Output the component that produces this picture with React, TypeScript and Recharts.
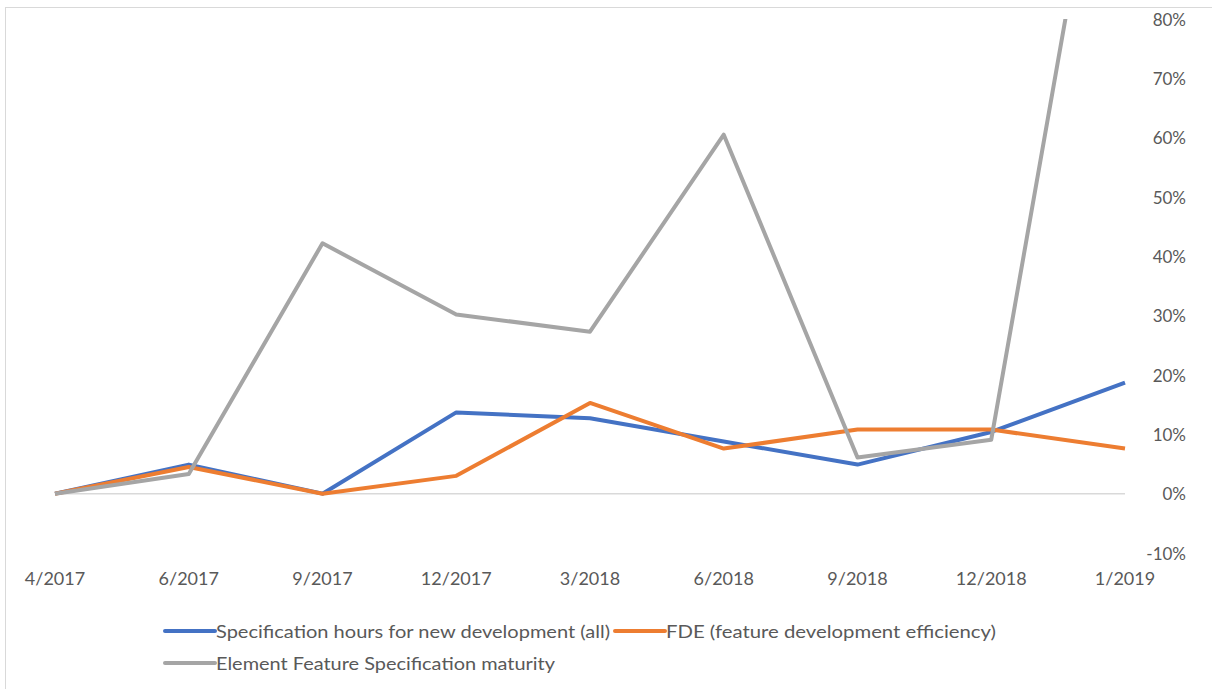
import React from 'react';
import { LineChart, Line, XAxis, YAxis, ReferenceLine, Legend } from 'recharts';

// Reporting periods
const periods = ['4/2017', '6/2017', '9/2017', '12/2017', '3/2018', '6/2018', '9/2018', '12/2018', '1/2019'];

// Series values, in percent
const specHours = [0, 4.9, 0, 13.7, 12.7, 8.8, 4.9, 10.4, 18.7];
const fde = [0, 4.5, 0, 3.0, 15.3, 7.6, 10.8, 10.8, 7.6];
const maturity = [0, 3.3, 42.2, 30.2, 27.3, 60.5, 6.1, 9.1, 137];

// Value-axis ticks
const yTicks = [-10, 0, 10, 20, 30, 40, 50, 60, 70, 80];

const seriesNames = [
  'Specification hours for new development (all)',
  'FDE (feature development efficiency)',
  'Element Feature Specification maturity',
];

const data = periods.map((p, i) => ({
  period: p,
  spec: specHours[i],
  fde: fde[i],
  maturity: maturity[i],
}));

const FONT = 'Lato, "Open Sans", sans-serif';
const TEXT = '#595959';

const XTick = (props: any) => {
  const { x, y, payload } = props;
  return (
    <text x={x} y={y + 17} textAnchor="middle" dominantBaseline="central" fill={TEXT} fontSize={18} fontFamily={FONT}>
      {payload.value}
    </text>
  );
};

const YTick = (props: any) => {
  const { x, y, payload } = props;
  return (
    <text x={x + 53} y={y} textAnchor="end" dominantBaseline="central" fill={TEXT} fontSize={17} fontFamily={FONT}>
      {`${payload.value}%`}
    </text>
  );
};

// Legend laid out in two rows: two entries on the first, one on the second
const legendSlots = [
  { x: 165, y: 12, len: 394 },
  { x: 615, y: 12, len: 330 },
  { x: 165, y: 44, len: 339 },
];

const LegendContent = (props: any) => {
  const items = props.payload || [];
  return (
    <svg width={1212} height={70} style={{ display: 'block' }}>
      {items.map((item: any) => {
        const s = legendSlots[seriesNames.indexOf(item.value)];
        if (!s) return null;
        return (
          <g key={item.value}>
            <line x1={s.x} x2={s.x + 50} y1={s.y} y2={s.y} stroke={item.color} strokeWidth={4} strokeLinecap="round" />
            <text
              x={s.x + 51}
              y={s.y}
              dominantBaseline="central"
              fill={TEXT}
              fontSize={17}
              fontFamily={FONT}
              textLength={s.len}
              lengthAdjust="spacingAndGlyphs"
            >
              {item.value}
            </text>
          </g>
        );
      })}
    </svg>
  );
};

export default function App() {
  return (
    <div style={{ position: 'fixed', left: 0, top: 0, width: 1212, height: 689, background: '#fff', overflow: 'hidden' }}>
      <div
        style={{
          position: 'absolute',
          left: 5,
          top: 7,
          width: 1400,
          height: 900,
          border: '1.5px solid #d9d9d9',
          boxSizing: 'border-box',
        }}
      />
      <div style={{ position: 'absolute', left: 0, top: 0 }}>
        <LineChart width={1212} height={689} data={data} margin={{ top: 19, right: 0, bottom: 0, left: 55 }}>
          <XAxis
            dataKey="period"
            axisLine={false}
            tickLine={false}
            height={66}
            interval={0}
            tick={<XTick />}
          />
          <YAxis
            orientation="right"
            width={87}
            domain={[-10, 80]}
            ticks={yTicks}
            allowDataOverflow
            axisLine={false}
            tickLine={false}
            tick={<YTick />}
          />
          <ReferenceLine y={0} stroke="#d9d9d9" strokeWidth={1.5} />
          <Legend verticalAlign="bottom" height={70} wrapperStyle={{ left: 0, bottom: 0, width: 1212, height: 70 }} content={<LegendContent />} />
          <Line
            dataKey="spec"
            name={seriesNames[0]}
            stroke="#4472C4"
            strokeWidth={4}
            dot={false}
            strokeLinejoin="round"
            isAnimationActive={false}
          />
          <Line
            dataKey="fde"
            name={seriesNames[1]}
            stroke="#ED7D31"
            strokeWidth={4}
            dot={false}
            strokeLinejoin="round"
            isAnimationActive={false}
          />
          <Line
            dataKey="maturity"
            name={seriesNames[2]}
            stroke="#A5A5A5"
            strokeWidth={4}
            dot={false}
            strokeLinejoin="round"
            isAnimationActive={false}
          />
        </LineChart>
      </div>
    </div>
  );
}
